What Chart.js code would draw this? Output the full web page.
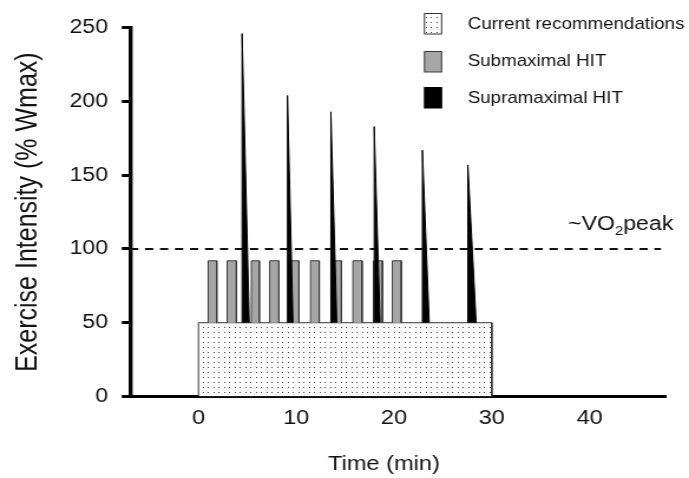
<!DOCTYPE html>
<html><head><meta charset="utf-8">
<script src="https://cdn.jsdelivr.net/npm/chart.js@4"></script>
<style>
html,body{margin:0;padding:0;background:#fff;overflow:hidden;width:689px;height:478px;}
#wrap{width:584px;height:478px;transform:scaleX(1.1798);transform-origin:0 0;}
canvas{display:block;}
</style></head>
<body>
<div id="wrap"><canvas id="c" width="584" height="478" style="width:584px;height:478px"></canvas></div>
<script>
// ---- data (minutes / % Wmax) ----
const legendLabels = ['Current recommendations', 'Submaximal HIT', 'Supramaximal HIT'];
const xTicks = [0, 10, 20, 30, 40];
const yTicks = [0, 50, 100, 150, 200, 250];
const currentStart = 0, currentEnd = 30, currentLevel = 50;
const subStart = [0.99, 2.93, 5.41, 7.28, 9.32, 11.46, 13.64, 15.79, 17.89, 19.83];
const subEnd   = [1.87, 3.88, 6.22, 8.23, 10.28, 12.35, 14.62, 16.73, 18.81, 20.74];
const subBase  = [50, 50, 50, 50, 50, 50, 50, 50, 50, 50];
const subPeak  = [92, 92, 92, 92, 92, 92, 92, 92, 92, 92];
const supraStart = [4.46, 9.10, 13.54, 17.97, 22.90, 27.55];
const supraEnd   = [5.20, 9.67, 14.15, 18.57, 23.60, 28.40];
const supraPeak  = [246, 204, 193, 183, 167, 157];
const supraBase  = 50;
const vo2Level = 100;
const vo2Span = [-7, 47.3];
const xRange = [-7, 47.8];
const yRange = [0, 250];

const FONT = "'Liberation Sans', Arial, Helvetica, sans-serif";
const canvas = document.getElementById('c');
const ctx0 = canvas.getContext('2d');

function makeDots(ctx){
  const c = document.createElement('canvas'); c.width = 9; c.height = 5;
  const g = c.getContext('2d');
  g.fillStyle = '#fff'; g.fillRect(0,0,9,5);
  g.fillStyle = '#444'; g.fillRect(1,2,1,1); g.fillRect(5,2,1,1);
  return ctx.createPattern(c, 'repeat');
}
const dots = makeDots(ctx0);

const datasets = [];
// current recommendations block
datasets.push({
  label: legendLabels[0], order: 4,
  data: [{x:currentStart,y:0},{x:currentStart,y:currentLevel},{x:currentEnd,y:currentLevel},{x:currentEnd,y:0}],
  borderColor: '#333', borderWidth: 1, backgroundColor: dots, fill: 'origin'
});
// ~VO2peak dashed line
datasets.push({
  label: 'VO2peak', order: 3,
  data: [{x:vo2Span[0],y:vo2Level},{x:vo2Span[1],y:vo2Level}],
  borderColor: '#111', borderWidth: 2, borderDash: [7, 5.7], fill: false
});
// submaximal bouts
subStart.forEach((s, i) => {
  datasets.push({
    label: legendLabels[1], order: 2,
    data: [{x:s,y:subBase[i]},{x:s,y:subPeak[i]},{x:subEnd[i],y:subPeak[i]},{x:subEnd[i],y:subBase[i]}],
    borderColor: '#3a3a3a', borderWidth: 1, backgroundColor: '#a6a6a6', fill: {value: subBase[i]}
  });
});
// supramaximal sprints
supraStart.forEach((s, i) => {
  datasets.push({
    label: legendLabels[2], order: 1,
    data: [{x:s,y:supraBase},{x:s,y:supraPeak[i]},{x:supraEnd[i],y:supraBase}],
    borderColor: '#000', borderWidth: 1, borderJoinStyle: 'bevel', backgroundColor: '#000', fill: {value: supraBase}
  });
});

const overlay = {
  id: 'overlay',
  afterDraw(chart){
    const ctx = chart.ctx;
    ctx.save();
    // x-axis title
    ctx.fillStyle = '#111';
    ctx.font = `20px ${FONT}`;
    ctx.textAlign = 'center'; ctx.textBaseline = 'middle';
    ctx.fillText('Time (min)', 325.4, 464);
    // ~VO2peak label
    ctx.textAlign = 'left'; ctx.textBaseline = 'alphabetic';
    let x = 481.5; const yb = 230;
    ctx.font = `19.6px ${FONT}`;
    ctx.fillText('~VO', x, yb); x += ctx.measureText('~VO').width;
    ctx.font = `12.5px ${FONT}`;
    ctx.fillText('2', x, yb + 5); x += ctx.measureText('2').width;
    ctx.font = `19.6px ${FONT}`;
    ctx.fillText('peak', x, yb);
    // legend
    const boxes = [{y:13.5, fill: dots, stroke:'#333'}, {y:51.5, fill:'#a6a6a6', stroke:'#3a3a3a'}, {y:87.5, fill:'#000', stroke:'#000'}];
    const textY = [25, 62, 98.5];
    boxes.forEach((b, i) => {
      ctx.fillStyle = b.fill; ctx.fillRect(359.8, b.y, 14.5, 20.5);
      ctx.strokeStyle = b.stroke; ctx.lineWidth = 1; ctx.strokeRect(359.8, b.y, 14.5, 20.5);
      ctx.fillStyle = '#111'; ctx.font = `15.9px ${FONT}`;
      ctx.textBaseline = 'middle';
      ctx.fillText(legendLabels[i], 396.4, textY[i]);
    });
    ctx.restore();
  }
};

new Chart(canvas, {
  type: 'scatter',
  data: { datasets },
  options: {
    responsive: false, animation: false, devicePixelRatio: 1,
    showLine: true,
    elements: { point: { radius: 0, hoverRadius: 0 }, line: { tension: 0 } },
    layout: { padding: { top: 27.7, right: 19.6, left: 0, bottom: 0 } },
    plugins: { legend: { display: false }, tooltip: { enabled: false } },
    scales: {
      x: {
        type: 'linear', min: xRange[0], max: xRange[1],
        afterBuildTicks(s){ s.ticks = xTicks.map(v => ({value: v})); },
        ticks: { padding: 9.5, color: '#111', font: { family: FONT, size: 20 }, maxRotation: 0, autoSkip: false },
        grid: { display: false, drawTicks: false },
        border: { display: true, color: '#000', width: 3 },
        afterFit(s){ s.height = 478 - 396.5; }
      },
      y: {
        min: yRange[0], max: yRange[1],
        afterBuildTicks(s){ s.ticks = yTicks.map(v => ({value: v})); },
        ticks: { padding: 11.7, color: '#111', font: { family: FONT, size: 19.5 } },
        grid: { drawOnChartArea: false, tickLength: 7, tickWidth: 3, tickColor: '#000' },
        border: { display: true, color: '#000', width: 3.4 },
        title: { display: true, text: 'Exercise Intensity (% Wmax)', color: '#111', font: { family: FONT, size: 25 }, padding: { top: 9.5, bottom: 0 } },
        afterFit(s){ s.width = 110.2; }
      }
    }
  },
  plugins: [overlay]
});
</script>
</body></html>
